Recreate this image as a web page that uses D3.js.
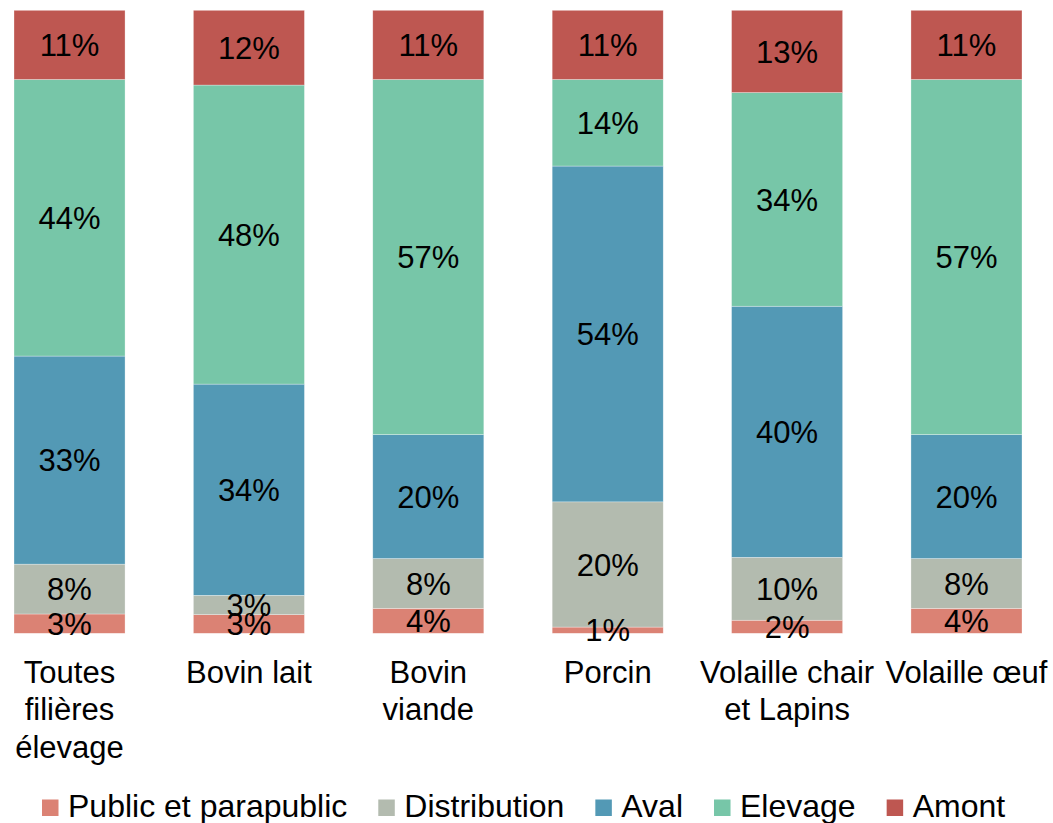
<!DOCTYPE html>
<html>
<head>
<meta charset="utf-8">
<script src="https://cdn.jsdelivr.net/npm/d3@7"></script>
<style>
  html, body { margin: 0; padding: 0; background: #fff; }
  svg text { font-family: "Liberation Sans", Arial, Helvetica, sans-serif; fill: #000; }
</style>
</head>
<body>
<svg id="chart" width="1053" height="823"></svg>
<script>
// ---- data ----
const categories = [
  "Toutes\nfilières\nélevage",
  "Bovin lait",
  "Bovin\nviande",
  "Porcin",
  "Volaille chair\net Lapins",
  "Volaille œuf"
];
const seriesNames = ["Public et parapublic", "Distribution", "Aval", "Elevage", "Amont"];
const publicValues       = [3.1, 3.0, 4.0, 1.0, 2.1, 4.0];
const distributionValues = [8.0, 3.1, 8.0, 20.1, 10.1, 8.0];
const avalValues         = [33.4, 33.9, 19.9, 53.9, 40.3, 19.9];
const elevageValues      = [44.4, 48.0, 57.0, 13.9, 34.3, 57.0];
const amontValues        = [11.1, 12.0, 11.1, 11.1, 13.2, 11.1];
const seriesColors = ["#DB8274", "#B3BBAF", "#5399B5", "#77C6A8", "#BE5751"];

// ---- build table ----
const seriesValues = [publicValues, distributionValues, avalValues, elevageValues, amontValues];
const table = categories.map((c, i) => {
  const row = { category: c };
  seriesNames.forEach((s, j) => row[s] = seriesValues[j][i]);
  return row;
});
const stacked = d3.stack().keys(seriesNames)(table);

const svg = d3.select("#chart");
const fontSize = 31;
const legendFontSize = 32;

const x = d3.scaleBand()
  .domain(categories)
  .range([14, 1022])
  .paddingInner(0.381)
  .paddingOuter(0);

const y = d3.scaleLinear().domain([0, 100]).range([633.3, 10.3]);
const color = d3.scaleOrdinal().domain(seriesNames).range(seriesColors);

// bars
const layer = svg.append("g").selectAll("g")
  .data(stacked)
  .join("g")
  .attr("fill", d => color(d.key));

layer.selectAll("rect")
  .data(d => d.map(p => ({ p, key: d.key })))
  .join("rect")
  .attr("x", d => x(d.p.data.category))
  .attr("width", x.bandwidth())
  .attr("y", d => y(d.p[1]))
  .attr("height", d => y(d.p[0]) - y(d.p[1]))
  .attr("stroke", "#fff")
  .attr("stroke-opacity", 0.5)
  .attr("stroke-width", 0.6);

// value labels
const labels = svg.append("g");
stacked.forEach(s => {
  s.forEach(p => {
    const v = p[1] - p[0];
    labels.append("text")
      .attr("x", x(p.data.category) + x.bandwidth() / 2)
      .attr("y", (y(p[0]) + y(p[1])) / 2 + fontSize * 0.36)
      .attr("text-anchor", "middle")
      .style("font-size", fontSize + "px")
      .text(Math.round(v) + "%");
  });
});

// category axis labels
const catG = svg.append("g");
categories.forEach(c => {
  const t = catG.append("text")
    .attr("text-anchor", "middle")
    .style("font-size", fontSize + "px");
  c.split("\n").forEach((line, i) => {
    t.append("tspan")
      .attr("x", x(c) + x.bandwidth() / 2)
      .attr("y", 683 + i * 37.3)
      .text(line);
  });
});

// legend
const legend = svg.append("g");
let lx = 42;
seriesNames.forEach((s, i) => {
  legend.append("rect")
    .attr("x", lx).attr("y", 799.5)
    .attr("width", 16.5).attr("height", 16.5)
    .attr("fill", color(s));
  const t = legend.append("text")
    .attr("x", lx + 26)
    .attr("y", 817)
    .style("font-size", legendFontSize + "px")
    .text(s);
  const w = t.node().getComputedTextLength();
  lx = lx + 26 + w + 31;
});
</script>
</body>
</html>
